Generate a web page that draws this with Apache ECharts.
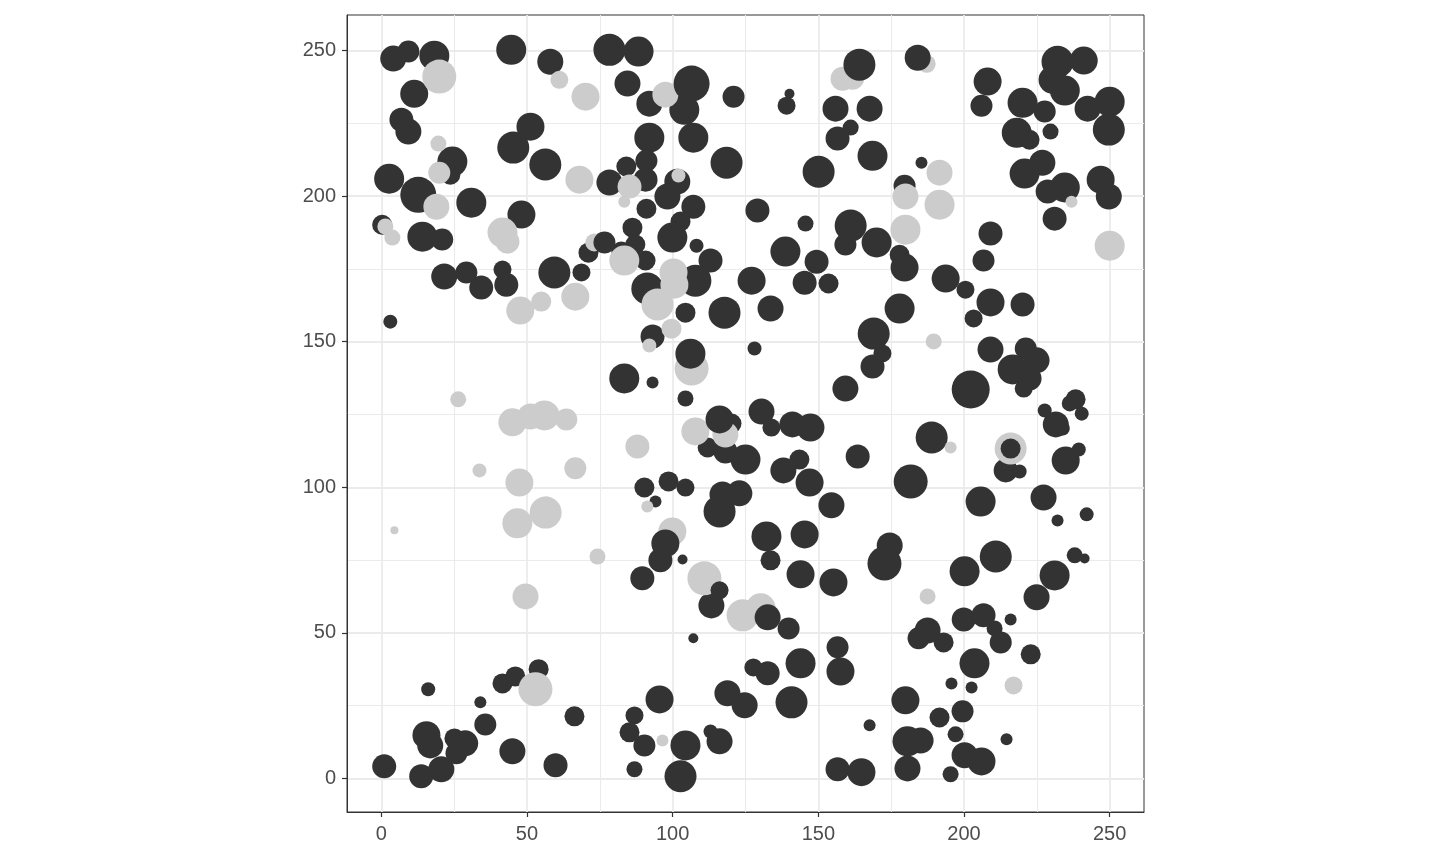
<!DOCTYPE html>
<html><head><meta charset="utf-8">
<script src="https://cdn.jsdelivr.net/npm/echarts@6/dist/echarts.min.js"></script>
<style>html,body{margin:0;padding:0;background:#fff}#c{width:1440px;height:864px}</style>
</head><body><div id="c"></div>
<script>
// Tick labels
const xTicks = [0, 50, 100, 150, 200, 250];
const yTicks = [0, 50, 100, 150, 200, 250];
const xMinorTicks = [25, 75, 125, 175, 225];
const yMinorTicks = [25, 75, 125, 175, 225];

// Points: [x, y, mark]  (mark drives symbol size)
const darkBase = [
[4.1,247.3,26],[9.3,249.7,22],[18.2,248.3,30],[44.6,250.3,30],[58.0,246.2,26],[78.3,250.3,32],[88.3,249.7,30],[84.5,238.7,26],
[104.0,229.7,30],[92.0,231.8,26],[120.9,234.2,22],[11.3,235.2,28],[6.9,226.3,24],[9.3,222.2,26],[24.4,211.9,30],[23.7,207.4,20],
[2.7,206.0,30],[12.7,200.5,36],[30.9,197.8,30],[0.3,190.2,20],[14.1,186.1,30],[20.9,185.1,22],[48.1,193.7,28],[51.2,223.9,28],
[45.3,216.7,32],[56.3,210.9,32],[21.6,172.4,26],[29.2,173.8,22],[34.3,168.6,24],[41.6,174.8,18],[42.9,169.6,24],[59.4,173.8,32],
[68.7,173.8,18],[71.1,180.6,20],[3.1,156.9,14],[92.0,220.1,30],[107.1,220.1,30],[118.5,211.5,32],[78.3,204.7,26],[84.1,210.2,20],
[91.0,212.2,22],[90.7,205.7,24],[101.6,205.0,26],[98.2,199.9,26],[107.1,196.4,24],[91.0,195.7,20],[102.7,191.3,20],[99.9,185.8,30],
[108.2,183.0,14],[113.0,177.9,24],[86.2,189.2,20],[87.2,183.4,20],[82.4,181.0,20],[90.7,177.9,20],[107.8,171.0,32],[91.3,168.3,32],
[104.4,160.0,20],[117.8,160.0,32],[93.1,151.8,24],[83.4,137.4,30],[93.1,136.0,12],[104.4,130.5,16],[127.1,171.0,28],[120.2,121.9,20],
[112.0,113.7,20],[118.1,112.3,24],[125.0,109.5,30],[90.3,99.9,20],[98.6,102.0,20],[104.4,99.9,18],[117.1,97.5,26],[116.1,91.7,32],
[122.9,97.9,26],[94.1,95.1,12],[95.8,74.9,24],[103.4,75.2,10],[89.6,68.7,24],[113.3,59.4,26],[107.1,48.1,10],[54.0,37.5,20],
[66.3,21.3,20],[95.5,27.1,28],[86.9,21.6,18],[85.2,15.8,20],[90.3,11.3,22],[104.4,11.3,30],[102.7,0.7,32],[86.9,3.1,16],
[113.0,16.1,14],[116.1,12.7,26],[118.8,29.2,26],[124.7,25.1,26],[59.8,4.5,24],[127.7,38.1,18],[16.1,30.6,14],[34.0,26.1,12],
[41.6,32.6,20],[46.0,35.0,20],[35.7,18.5,22],[15.5,14.8,28],[16.8,11.3,26],[25.1,13.7,20],[28.8,12.0,26],[25.8,8.6,22],
[20.6,3.1,26],[13.7,0.7,24],[1.0,4.1,24],[45.0,9.3,26],[140.1,235.2,10],[139.1,231.1,18],[155.9,230.1,26],[167.6,230.1,26],
[161.1,223.6,16],[156.6,219.8,24],[168.6,213.9,30],[150.1,208.4,32],[185.4,211.5,12],[179.6,203.6,22],[129.1,195.1,24],[145.6,190.6,16],
[161.1,189.9,32],[159.3,183.4,22],[170.0,184.1,30],[138.7,181.0,30],[149.4,177.5,24],[177.9,179.9,20],[179.6,175.5,28],[145.3,170.3,24],
[153.5,170.0,20],[193.7,171.7,28],[133.6,161.4,26],[177.9,161.4,30],[128.1,147.7,14],[169.0,152.8,32],[172.0,146.0,18],[168.6,141.5,24],
[159.3,133.9,26],[130.5,126.0,26],[133.9,120.5,18],[141.1,121.6,26],[147.3,120.5,28],[188.9,117.1,32],[138.0,105.8,26],[143.5,109.5,20],
[147.0,101.6,28],[163.5,110.6,24],[181.7,102.0,34],[154.5,93.8,26],[132.2,83.1,30],[145.3,83.8,28],[174.5,80.0,26],[133.6,74.9,20],
[143.9,70.1,28],[155.2,67.3,28],[172.7,73.8,34],[139.8,51.5,22],[156.6,45.0,22],[157.6,36.7,28],[132.6,36.1,24],[143.9,39.5,30],
[140.8,26.1,32],[187.5,50.8,26],[184.4,48.1,22],[193.0,46.7,20],[179.9,26.8,28],[167.6,18.2,12],[191.6,20.9,20],[180.6,12.7,30],
[185.1,13.0,26],[180.6,3.4,26],[156.6,3.1,24],[164.8,2.1,28],[195.4,1.4,16],[210.9,76.2,32],[200.2,71.1,30],[238.0,76.6,16],
[241.4,75.5,10],[231.1,69.7,30],[224.9,62.2,26],[199.9,54.6,24],[206.7,56.0,24],[210.5,51.5,16],[216.0,54.6,12],[212.6,46.7,22],
[222.9,42.6,20],[203.6,39.5,30],[195.7,32.6,12],[202.6,31.2,12],[199.5,23.0,22],[197.1,15.1,16],[214.6,13.4,12],[200.2,7.9,26],
[206.0,5.8,28],[200.5,167.9,18],[209.1,163.5,28],[220.1,162.8,24],[203.3,158.0,18],[209.1,147.3,26],[221.2,147.7,22],[224.9,143.6,26],
[216.7,140.5,30],[222.5,137.4,24],[220.5,133.9,18],[202.3,133.6,38],[238.3,130.2,20],[240.4,125.3,14],[236.3,128.8,16],[227.7,126.4,14],
[231.5,121.6,26],[233.9,120.2,14],[214.3,105.8,24],[219.1,105.4,14],[234.9,109.2,28],[239.4,113.0,14],[205.7,95.1,30],[227.3,96.5,26],
[232.1,88.6,12],[242.1,90.7,14],[208.1,239.4,28],[206.0,231.1,22],[220.1,232.1,30],[227.7,229.1,22],[232.1,246.2,32],[241.1,246.6,28],
[230.4,240.0,28],[234.6,236.3,30],[242.4,230.1,26],[250.0,232.5,30],[249.7,222.9,32],[218.1,221.8,30],[222.5,219.4,20],[229.7,222.2,16],
[226.9,211.5,26],[220.8,207.8,30],[228.7,201.6,24],[234.6,203.0,30],[246.9,205.7,28],[249.7,199.9,26],[231.1,192.3,24],[209.1,187.2,24],
[206.7,177.9,22]
];
const lightPoints = [
[19.9,241.1,34],[61.1,240.0,18],[70.1,234.2,28],[97.5,234.9,26],[158.3,240.4,24],[161.7,240.7,24],[187.2,245.5,18],[19.6,218.1,16],
[19.9,208.1,22],[18.9,196.4,26],[1.4,189.6,16],[3.8,185.8,16],[41.6,187.5,30],[43.3,184.4,24],[68.0,205.7,28],[85.2,203.3,24],
[83.4,198.1,12],[102.0,207.1,14],[73.1,184.1,18],[83.4,177.9,30],[100.3,173.8,28],[100.6,169.6,28],[94.8,162.8,32],[66.6,165.5,28],
[54.9,163.8,20],[47.7,160.7,28],[99.6,154.5,20],[92.0,148.7,14],[106.5,140.8,34],[26.4,130.2,16],[45.0,122.3,28],[51.2,124.3,26],
[56.0,124.7,30],[63.5,123.3,22],[33.7,105.8,14],[47.4,101.6,28],[46.7,87.6,30],[56.4,91.3,32],[56.7,94.4,14],[4.5,85.2,8],
[66.6,106.5,22],[87.9,114.0,24],[107.8,119.2,28],[118.1,118.1,26],[91.3,93.4,12],[99.9,84.8,28],[74.2,76.2,16],[110.9,68.7,34],
[124.0,56.0,32],[130.2,58.4,30],[49.5,62.5,26],[52.9,30.6,34],[96.5,13.0,12],[187.5,62.5,16],[217.0,31.9,18],[216.0,113.3,32],
[195.4,113.7,12],[189.6,150.1,16],[191.6,208.1,26],[179.9,199.9,26],[191.6,197.1,30],[179.9,188.5,30],[236.9,198.1,12],[250.0,183.0,30]
];
const darkTop = [
[106.5,238.7,36],[164.1,245.2,32],[184.1,247.6,26],[106.1,145.9,30],[97.5,80.7,28],[116.1,123.3,28],[116.1,64.6,18],[132.6,55.3,26],
[76.6,184.1,22],[216.0,113.3,20]
];

const DARK = '#333333', LIGHT = '#CCCCCC';
const X_MIN = -11.77, X_MAX = 261.78, Y_MIN = -11.58, Y_MAX = 262.27;
const sizeOf = d => d[2];

const chart = echarts.init(document.getElementById('c'), null, {renderer: 'canvas'});
const labelStyle = {color: '#4D4D4D', fontSize: 20, fontFamily: 'Liberation Sans, Arial, sans-serif'};
function majorAxis(ticks, pos) {
  const isX = pos === 'bottom';
  return {
    type: 'value', min: isX ? X_MIN : Y_MIN, max: isX ? X_MAX : Y_MAX, position: pos,
    axisLine: {show: true, onZero: false, lineStyle: {color: '#333333', width: 1}},
    axisTick: {show: true, inside: false, customValues: ticks, length: 5, lineStyle: {color: '#333333', width: 1.2}},
    axisLabel: Object.assign({customValues: ticks, margin: isX ? 12 : 11}, labelStyle),
    splitLine: {show: true, lineStyle: {color: '#EBEBEB', width: 1.8}}
  };
}
function minorAxis(ticks, pos) {
  const isX = pos === 'bottom';
  return {
    type: 'value', min: isX ? X_MIN : Y_MIN, max: isX ? X_MAX : Y_MAX, position: pos,
    axisLine: {show: false, onZero: false},
    axisTick: {show: false, customValues: ticks},
    axisLabel: {show: false, customValues: ticks},
    splitLine: {show: true, lineStyle: {color: '#EBEBEB', width: 1.1}}
  };
}
function sc(name, data, color) {
  return {
    name, type: 'scatter', xAxisIndex: 0, yAxisIndex: 0, data,
    symbol: 'circle', symbolSize: sizeOf,
    itemStyle: {color, opacity: 1},
    emphasis: {disabled: true}, silent: true
  };
}
chart.setOption({
  animation: false,
  backgroundColor: '#ffffff',
  grid: {left: 347, top: 15, width: 797, height: 797, show: true, borderColor: '#333333', borderWidth: 1, backgroundColor: '#ffffff'},
  xAxis: [majorAxis(xTicks, 'bottom'), minorAxis(xMinorTicks, 'bottom')],
  yAxis: [majorAxis(yTicks, 'left'), minorAxis(yMinorTicks, 'left')],
  series: [sc('darkBase', darkBase, DARK), sc('light', lightPoints, LIGHT), sc('darkTop', darkTop, DARK)]
});
</script>
</body></html>
